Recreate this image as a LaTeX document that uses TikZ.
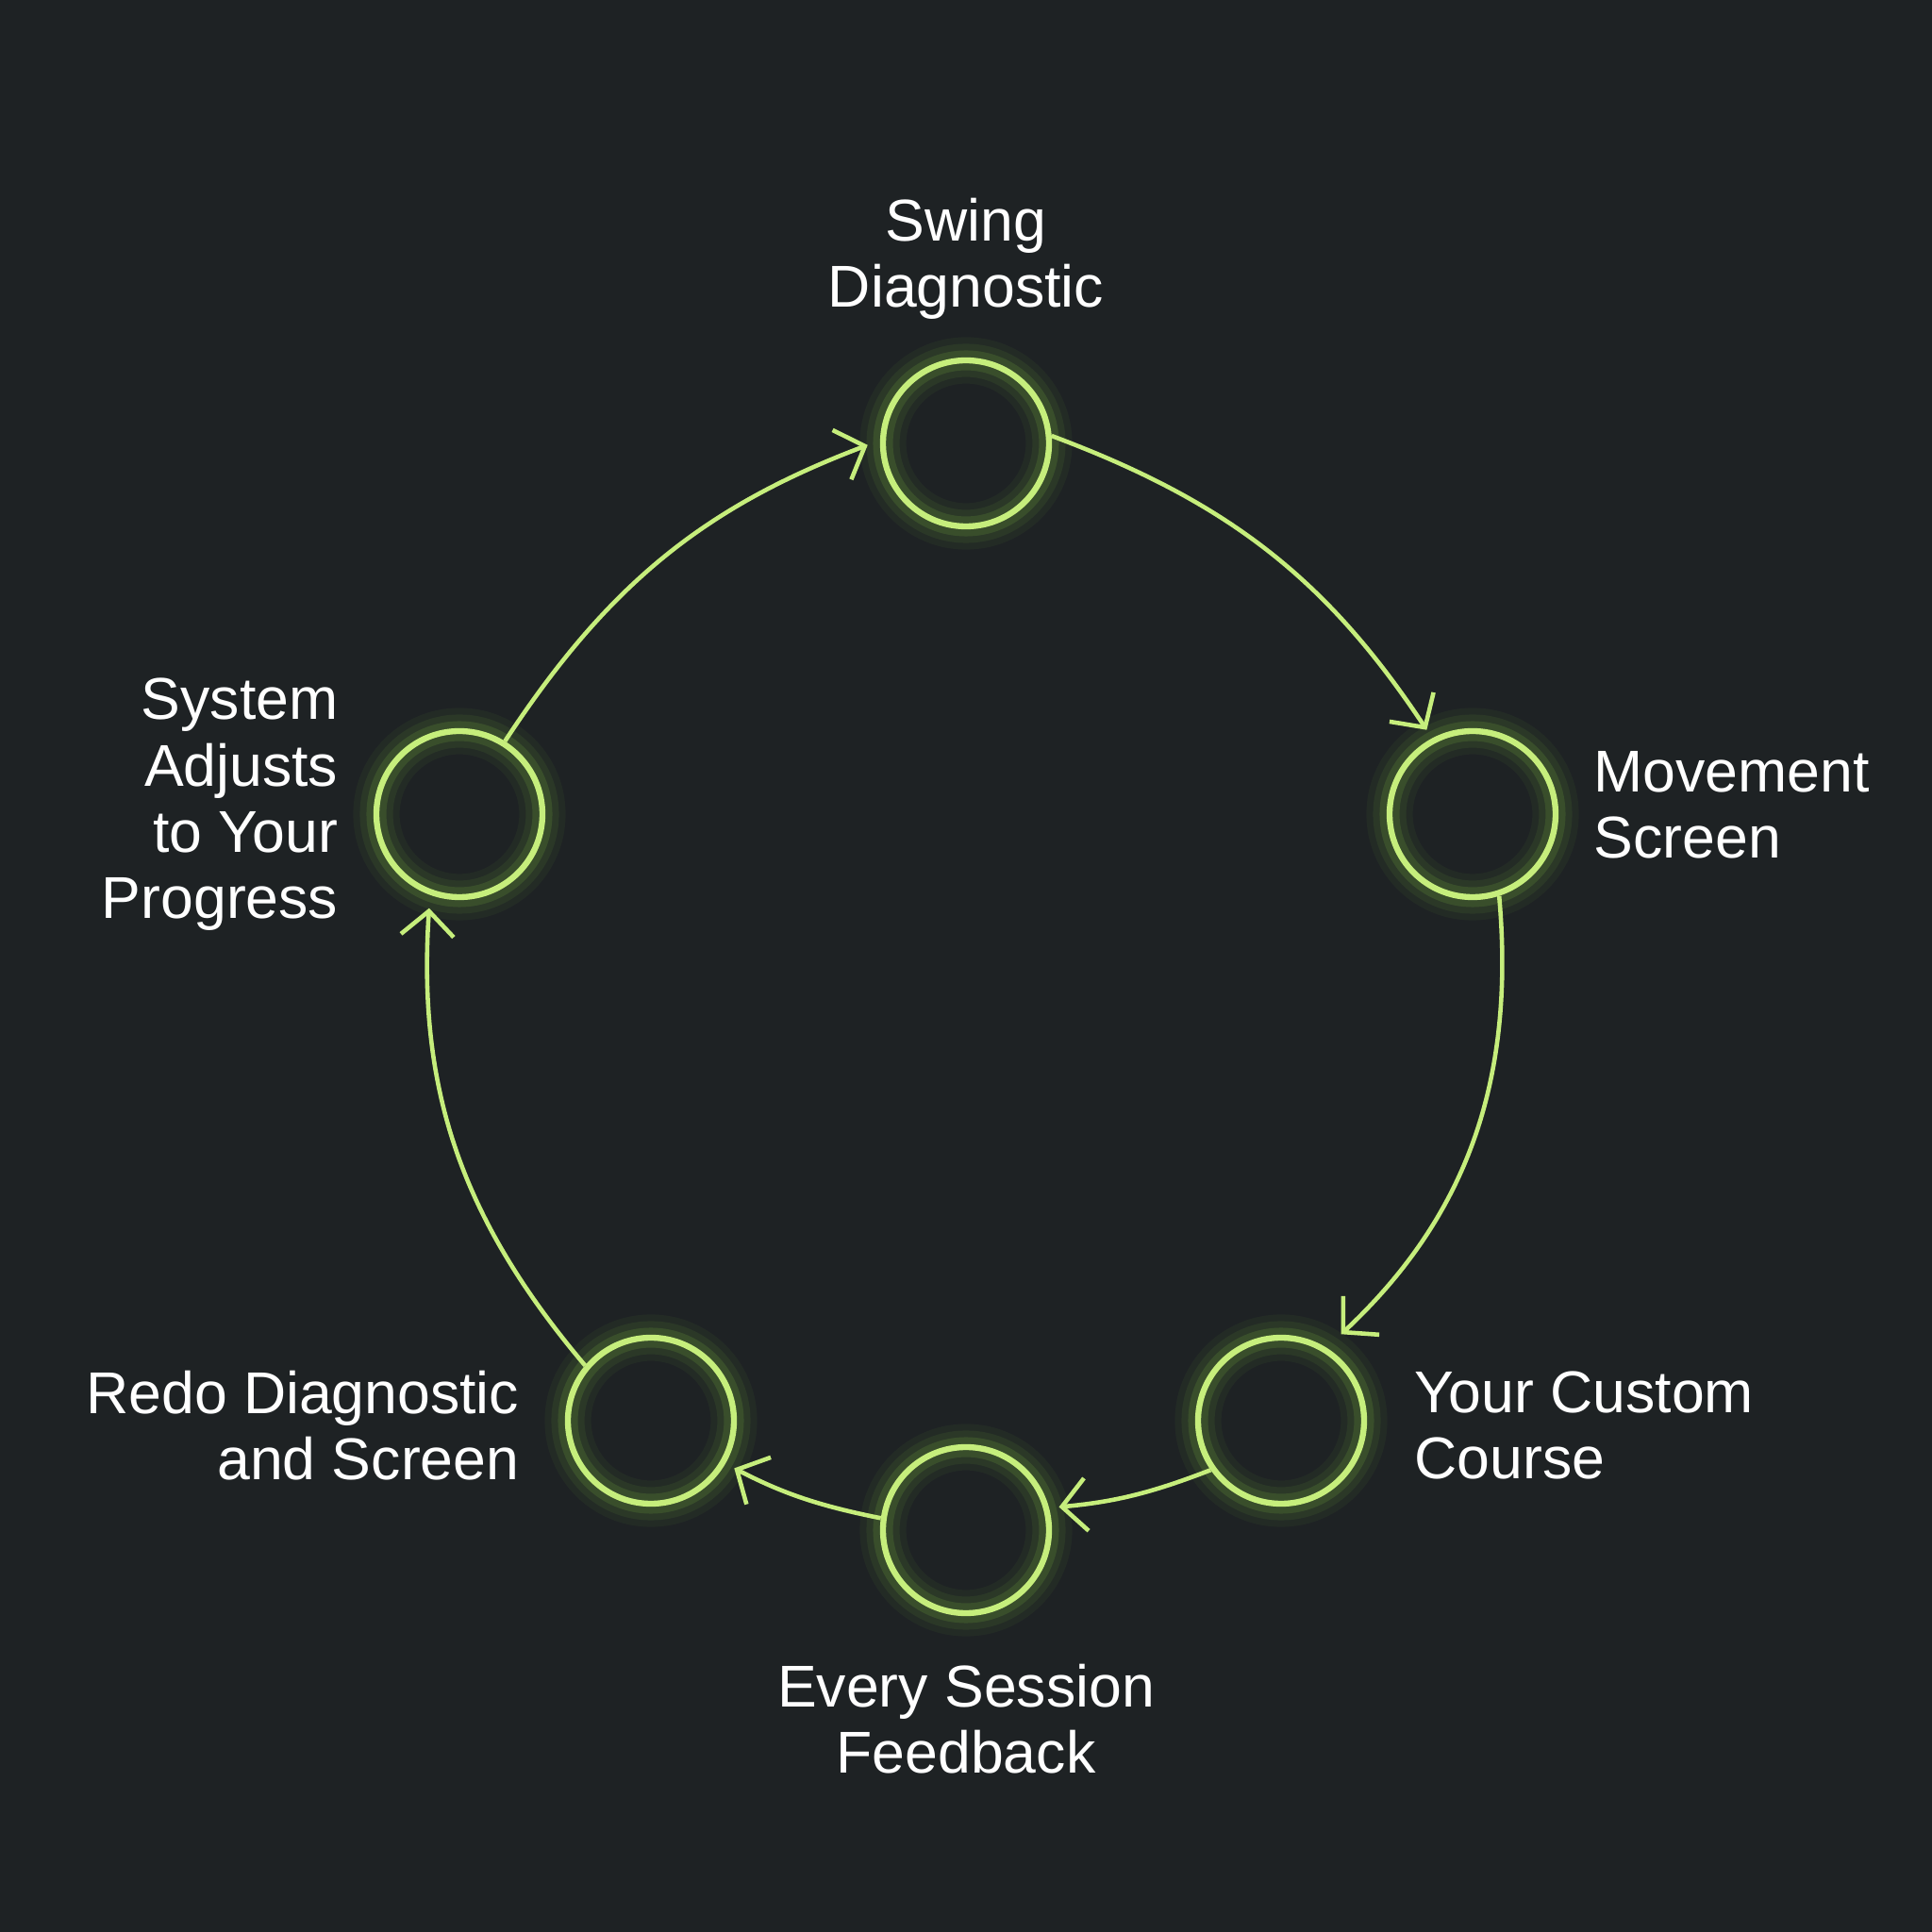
\documentclass[tikz,border=0pt]{standalone}
\usepackage{fontspec}
\setmainfont{Liberation Sans}
\usetikzlibrary{arrows.meta,positioning}
\definecolor{bgcol}{HTML}{1E2224}
\definecolor{lime}{HTML}{C6EE7C}
\definecolor{glow}{HTML}{8FD94A}
\tikzset{
	stage/.style = {draw=lime, line width=1.8pt, circle, minimum size=1.76cm, inner sep=0pt},
	halo/.style  = {draw=glow, circle, minimum size=1.76cm, inner sep=0pt},
	flow/.style  = {draw=lime, line width=1.3pt, -{Straight Barb[length=2.6mm,width=5.6mm,line width=1.3pt]}},
	label/.style = {text=white, font=\fontsize{17.8}{20}\selectfont, inner sep=0pt},
}
\newcommand{\glowstage}[2]{%
	\foreach \w/\o in {14/0.05,10/0.08,6/0.14}
		\node[halo, line width=\w pt, draw opacity=\o] at (#2) {};
	\node[stage] (#1) at (#2) {};
}
\begin{document}
\begin{tikzpicture}
	\fill[bgcol] (0,0) rectangle (20.48,20.48);
	\useasboundingbox (0,0) rectangle (20.48,20.48);

	% Draw the stages
	\glowstage{swing}{10.24,15.78}
	\glowstage{move}{15.61,11.85}
	\glowstage{course}{13.58,5.42}
	\glowstage{session}{10.24,4.26}
	\glowstage{redo}{6.90,5.42}
	\glowstage{adjust}{4.87,11.85}

	% Labels
	\node[label, align=center] (lswing) at (10.24,17.74) {Swing\\Diagnostic};
	\node[label, align=left, anchor=west] (lmove) at (16.89,11.95) {Movement\\Screen};
	\node[label, align=left, anchor=west] (lcourse) at (14.99,5.37) {Your Custom\\Course};
	\node[label, align=center] (lsession) at (10.24,2.26) {Every Session\\Feedback};
	\node[label, align=right, anchor=east] (lredo) at (5.51,5.37) {Redo Diagnostic\\and Screen};
	\node[label, align=right, anchor=east] (ladjust) at (3.59,11.95) {System\\Adjusts\\to Your\\Progress};

	% Connect the loop
	\draw[flow, shorten >=3pt] (swing.5) to[bend left=18] (move.118);
	\draw[flow, shorten >=6pt] (move.-72) to[bend left=26] (course.58);
	\draw[flow, shorten >=3pt] (course.-145) to[bend left=8] (session.15);
	\draw[flow, shorten >=3pt] (session.172) to[bend left=8] (redo.-30);
	\draw[flow, shorten >=4pt] (redo.140) to[bend left=22] (adjust.-110);
	\draw[flow, shorten >=4pt] (adjust.58) to[bend left=18] (swing.178);
\end{tikzpicture}
\end{document}
